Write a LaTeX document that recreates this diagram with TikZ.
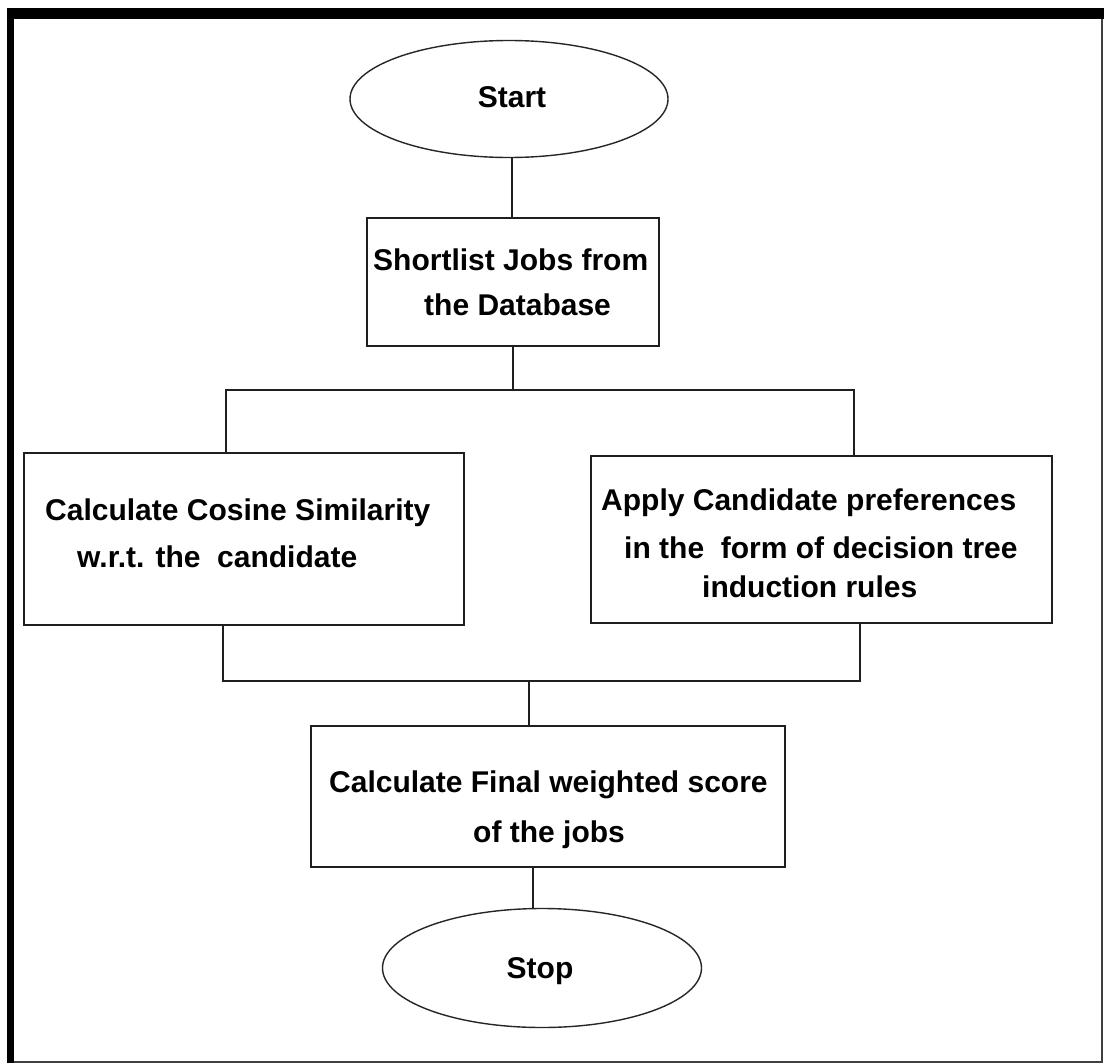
\documentclass[tikz,border=0pt]{standalone}
\usepackage{fontspec}
\setmainfont{Liberation Sans}
\usetikzlibrary{shapes.geometric}

\begin{document}
\begin{tikzpicture}[x=1pt,y=-1pt,
  flowline/.style={line width=1.8pt,draw=black!88},
  procbox/.style={draw=black!88,line width=1.8pt,rectangle,inner sep=0pt},
  terminal/.style={draw=black!85,line width=1.4pt,ellipse,inner sep=0pt},
  txt/.style={inner sep=0pt,anchor=base west,font=\fontsize{30}{36}\selectfont\bfseries},
  ctxt/.style={txt,anchor=base}]

  % page area and frame with heavy top and left edges
  \useasboundingbox (0,0) rectangle (1104,1063);
  \fill[white] (0,0) rectangle (1104,1063);
  \draw[line width=2pt,black!75] (10,12) rectangle (1101.5,1061.5);
  \fill[black] (7,8) rectangle (1104,19);
  \fill[black] (7,8) rectangle (14,1063);

  % terminals
  \node[terminal,minimum width=318pt,minimum height=117pt] (start) at (509,99) {};
  \node[ctxt] (starttxt) at (512,107) {Start};
  \node[terminal,minimum width=319pt,minimum height=119pt] (stop) at (542,968) {};
  \node[ctxt] (stoptxt) at (540,978) {Stop};

  % process boxes
  \node[procbox,minimum width=292pt,minimum height=128pt] (shortlist) at (513,282) {};
  \node[procbox,minimum width=440pt,minimum height=172pt] (cosine) at (244,539) {};
  \node[procbox,minimum width=461pt,minimum height=167pt] (prefs) at (821.5,539.5) {};
  \node[procbox,minimum width=474pt,minimum height=141pt] (final) at (548,796.5) {};

  % box texts, line by line
  \node[txt] (sl1) at (373,270) {Shortlist Jobs from};
  \node[txt] (sl2) at (424,315) {the Database};
  \node[txt] (cs1) at (45,520) {Calculate Cosine Similarity};
  \node[txt] (cs2) at (77,567) {w.r.t. the\ \ candidate};
  \node[txt] (pr1) at (601,510) {Apply Candidate preferences};
  \node[txt] (pr2) at (624,558) {in the\ \ form of decision tree};
  \node[txt] (pr3) at (702,597) {induction rules};
  \node[txt] (fw1) at (329,792) {Calculate Final weighted score};
  \node[txt] (fw2) at (473,842) {of the jobs};

  % junction points of the connectors
  \coordinate (bl) at (226,390);
  \coordinate (br) at (854,390);
  \coordinate (ml) at (223,681);
  \coordinate (mr) at (860,681);
  \coordinate (mj) at (529,681);
  \coordinate (sj) at (533,867);

  % connectors
  \draw[flowline] (start.south -| 512,0) -- (shortlist.north -| 512,0);
  \draw[flowline] (shortlist.south) -- (shortlist.south |- bl);
  \draw[flowline] (cosine.north -| bl) -- (bl) -- (br) -- (prefs.north -| br);
  \draw[flowline] (cosine.south -| ml) -- (ml) -- (mr) -- (prefs.south -| mr);
  \draw[flowline] (mj) -- (final.north -| mj);
  \draw[flowline] (final.south -| sj) -- (stop.north -| sj);
\end{tikzpicture}
\end{document}
